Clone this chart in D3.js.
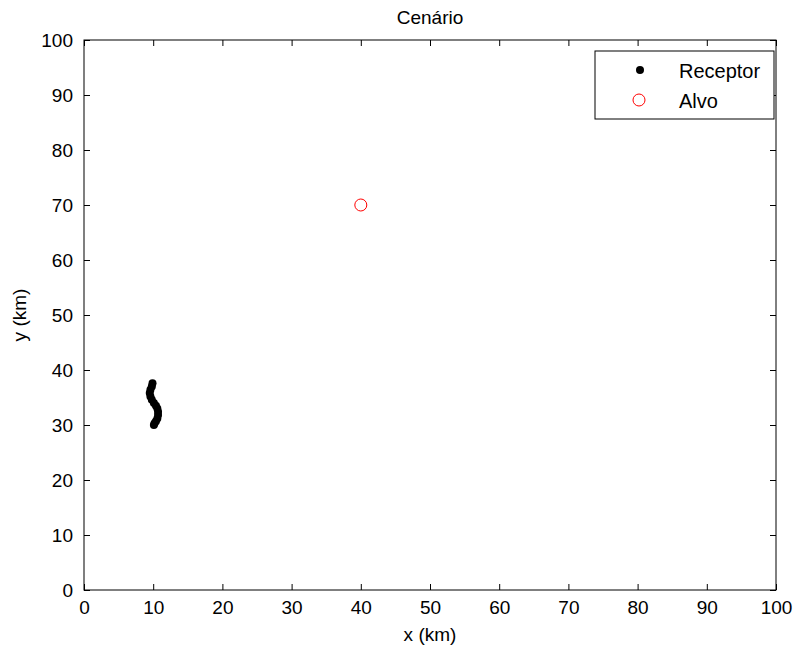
<!DOCTYPE html>
<html>
<head>
<meta charset="utf-8">
<script src="https://cdn.jsdelivr.net/npm/d3@7"></script>
<style>
  body { margin: 0; background: #fff; }
  svg text { font-family: "Liberation Sans", Arial, sans-serif; fill: #000; }
</style>
</head>
<body>
<svg width="801" height="647"></svg>
<script>
// receptor trajectory (km)
const receptorX = [9.9, 9.8, 9.6, 9.5, 9.6, 9.8, 10.1, 10.4, 10.6, 10.7, 10.7, 10.6, 10.4, 10.2, 10.1];
const receptorY = [37.6, 37.0, 36.4, 35.8, 35.2, 34.6, 34.0, 33.5, 33.0, 32.4, 31.8, 31.2, 30.7, 30.3, 30.0];
// target
const alvoX = [40];
const alvoY = [70];
const xTicks = d3.range(0, 101, 10);
const yTicks = d3.range(0, 101, 10);

const svg = d3.select("svg"),
      margin = { top: 40, right: 25, bottom: 57, left: 84 },
      width = 801 - margin.left - margin.right,
      height = 647 - margin.top - margin.bottom,
      g = svg.append("g").attr("transform", `translate(${margin.left},${margin.top})`);

const x = d3.scaleLinear().domain([0, 100]).range([0, width]);
const y = d3.scaleLinear().domain([0, 100]).range([height, 0]);

const fontSize = "19px";
const tickLen = 6;

// axes box
g.append("rect")
  .attr("width", width).attr("height", height)
  .attr("fill", "none").attr("stroke", "#000").attr("stroke-width", 1);

// inward ticks on all four sides
const styleAxis = sel => {
  sel.select(".domain").remove();
  sel.selectAll("line").attr("stroke", "#000");
  sel.selectAll("text").style("font-size", fontSize);
};

g.append("g").attr("transform", `translate(0,${height})`)
  .call(d3.axisBottom(x).tickValues(xTicks).tickSize(-tickLen).tickPadding(tickLen + 5))
  .call(styleAxis);
g.append("g")
  .call(d3.axisTop(x).tickValues(xTicks).tickSize(-tickLen).tickFormat(""))
  .call(styleAxis);
g.append("g")
  .call(d3.axisLeft(y).tickValues(yTicks).tickSize(-tickLen).tickPadding(tickLen + 5))
  .call(styleAxis);
g.append("g").attr("transform", `translate(${width},0)`)
  .call(d3.axisRight(y).tickValues(yTicks).tickSize(-tickLen).tickFormat(""))
  .call(styleAxis);

svg.selectAll(".tick text").attr("fill", "#000");

// receptor points
const receptor = receptorX.map((d, i) => ({ x: d, y: receptorY[i] }));
g.selectAll(".receptor")
  .data(receptor)
  .enter()
  .append("circle")
  .attr("class", "receptor")
  .attr("cx", d => x(d.x))
  .attr("cy", d => y(d.y))
  .attr("r", 4)
  .attr("fill", "#000");

// target
g.selectAll(".alvo")
  .data(alvoX.map((d, i) => ({ x: d, y: alvoY[i] })))
  .enter()
  .append("circle")
  .attr("class", "alvo")
  .attr("cx", d => x(d.x))
  .attr("cy", d => y(d.y))
  .attr("r", 6)
  .attr("fill", "none")
  .attr("stroke", "#ff0000")
  .attr("stroke-width", 1);

// title and axis labels
svg.append("text")
  .attr("x", margin.left + width / 2).attr("y", 24)
  .attr("text-anchor", "middle").style("font-size", fontSize)
  .text("Cenário");
svg.append("text")
  .attr("x", margin.left + width / 2).attr("y", 641)
  .attr("text-anchor", "middle").style("font-size", fontSize)
  .text("x (km)");
svg.append("text")
  .attr("transform", `translate(26,${margin.top + height / 2}) rotate(-90)`)
  .attr("text-anchor", "middle").style("font-size", fontSize)
  .text("y (km)");

// legend
const legend = svg.append("g").attr("transform", "translate(595,51)");
legend.append("rect")
  .attr("width", 179).attr("height", 68)
  .attr("fill", "#fff").attr("stroke", "#000");
legend.append("circle").attr("cx", 45).attr("cy", 19).attr("r", 4).attr("fill", "#000");
legend.append("circle").attr("cx", 44).attr("cy", 49).attr("r", 6)
  .attr("fill", "none").attr("stroke", "#ff0000");
legend.selectAll(".ltext")
  .data(["Receptor", "Alvo"])
  .enter()
  .append("text")
  .attr("class", "ltext")
  .attr("x", 84)
  .attr("y", (d, i) => 27 + i * 30)
  .style("font-size", "20px")
  .text(d => d);
</script>
</body>
</html>
